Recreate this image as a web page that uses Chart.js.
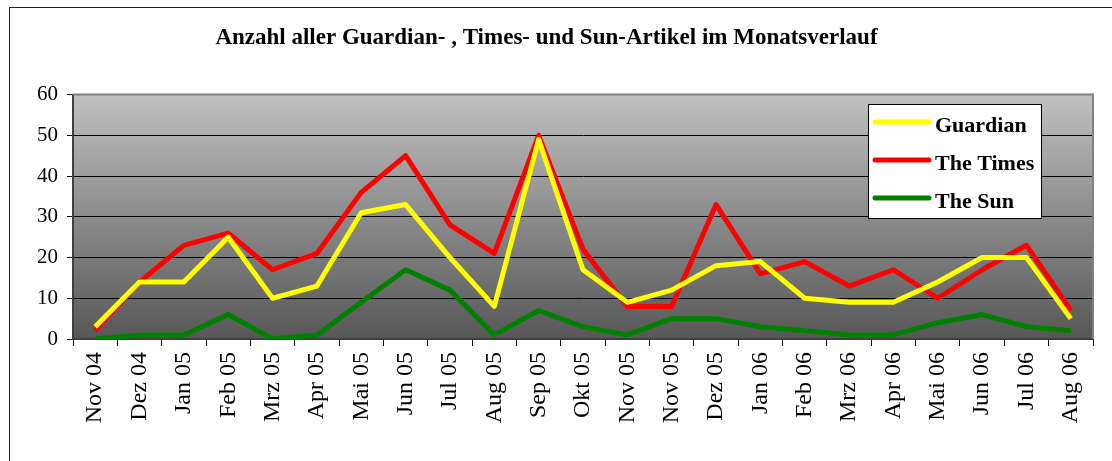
<!DOCTYPE html>
<html>
<head>
<meta charset="utf-8">
<script src="https://cdn.jsdelivr.net/npm/chart.js@4.4.1/dist/chart.umd.min.js"></script>
<style>
  html, body { margin: 0; padding: 0; background: #fff; }
  #wrap { width: 1112px; height: 461px; }
</style>
</head>
<body>
<div id="wrap"><canvas id="articleChart" width="1112" height="461"></canvas></div>
<script>
// chart data
const months = ['Nov 04', 'Dez 04', 'Jan 05', 'Feb 05', 'Mrz 05', 'Apr 05', 'Mai 05', 'Jun 05',
    'Jul 05', 'Aug 05', 'Sep 05', 'Okt 05', 'Nov 05', 'Nov 05', 'Dez 05', 'Jan 06', 'Feb 06',
    'Mrz 06', 'Apr 06', 'Mai 06', 'Jun 06', 'Jul 06', 'Aug 06'];
const guardian = [3, 14, 14, 25, 10, 13, 31, 33, 20, 8, 49, 17, 9, 12, 18, 19, 10, 9, 9, 14, 20, 20, 5];
const times = [2, 14, 23, 26, 17, 21, 36, 45, 28, 21, 50, 22, 8, 8, 33, 16, 19, 13, 17, 10, 17, 23, 7];
const sun = [0, 1, 1, 6, 0, 1, 9, 17, 12, 1, 7, 3, 1, 5, 5, 3, 2, 1, 1, 4, 6, 3, 2];
const yTicks = [0, 10, 20, 30, 40, 50, 60];

const serif = "'Liberation Serif', 'Times New Roman', serif";

// background: outer frame + gradient plot area + plot border
const backgroundPlugin = {
    id: 'background',
    beforeDraw(chart) {
        const ctx = chart.ctx;
        const a = chart.chartArea;
        ctx.save();
        ctx.fillStyle = '#fff';
        ctx.fillRect(0, 0, chart.width, chart.height);
        ctx.strokeStyle = '#222';
        ctx.lineWidth = 1;
        ctx.strokeRect(9.5, 7.5, chart.width + 20, chart.height + 20);

        const grad = ctx.createLinearGradient(0, a.top, 0, a.bottom);
        grad.addColorStop(0, '#c0c0c0');
        grad.addColorStop(1, '#575757');
        ctx.fillStyle = grad;
        ctx.fillRect(a.left, a.top, a.right - a.left, a.bottom - a.top);
        ctx.restore();
    },
    beforeDatasetsDraw(chart) {
        const ctx = chart.ctx;
        const a = chart.chartArea;
        ctx.save();
        ctx.strokeStyle = '#808080';
        ctx.lineWidth = 2;
        ctx.beginPath();
        ctx.moveTo(a.left, a.top);
        ctx.lineTo(a.right, a.top);
        ctx.lineTo(a.right, a.bottom);
        ctx.stroke();
        ctx.restore();
    }
};

// legend box inside the plot, top right
const boxLegendPlugin = {
    id: 'boxLegend',
    afterDraw(chart) {
        const ctx = chart.ctx;
        const x = 868, y = 104, w = 173, h = 114;
        ctx.save();
        ctx.fillStyle = '#fff';
        ctx.fillRect(x, y, w, h);
        ctx.strokeStyle = '#000';
        ctx.lineWidth = 1;
        ctx.strokeRect(x + 0.5, y + 0.5, w, h);
        ctx.font = 'bold 22px ' + serif;
        ctx.textBaseline = 'middle';
        chart.data.datasets.forEach((ds, i) => {
            const cy = y + 18 + i * 38;
            ctx.strokeStyle = ds.borderColor;
            ctx.lineWidth = 5;
            ctx.lineCap = 'round';
            ctx.beginPath();
            ctx.moveTo(875, cy);
            ctx.lineTo(929, cy);
            ctx.stroke();
            ctx.fillStyle = '#000';
            ctx.fillText(ds.label, 935, cy + 4);
        });
        ctx.restore();
    }
};

const chart = new Chart(document.getElementById('articleChart'), {
    type: 'line',
    data: {
        labels: months,
        datasets: [
            { label: 'Guardian', data: guardian, borderColor: '#ffff00' },
            { label: 'The Times', data: times, borderColor: '#ff0000' },
            { label: 'The Sun', data: sun, borderColor: '#008000' }
        ]
    },
    options: {
        responsive: false,
        animation: false,
        layout: { padding: { left: 0, right: 19, top: 0, bottom: 0 } },
        elements: {
            line: { borderWidth: 5, tension: 0, borderJoinStyle: 'round' },
            point: { radius: 0, hoverRadius: 0 }
        },
        plugins: {
            legend: { display: false },
            tooltip: { enabled: false },
            title: {
                display: true,
                text: 'Anzahl aller Guardian- , Times- und Sun-Artikel im Monatsverlauf',
                color: '#000',
                font: { family: serif, size: 23, weight: 'bold' },
                padding: { top: 24, bottom: 43 }
            }
        },
        scales: {
            x: {
                offset: true,
                grid: { offset: true, drawOnChartArea: false, color: '#000', tickLength: 7 },
                border: { color: '#404040', width: 2 },
                ticks: {
                    color: '#000',
                    font: { family: serif, size: 24 },
                    minRotation: 90,
                    maxRotation: 90,
                    autoSkip: false,
                    padding: 6
                },
                afterFit(scale) { scale.height = 122; }
            },
            y: {
                min: 0,
                max: 60,
                afterBuildTicks(scale) { scale.ticks = yTicks.map(v => ({ value: v })); },
                grid: { color: '#000', lineWidth: 1, tickLength: 6 },
                border: { color: '#404040', width: 2 },
                ticks: {
                    color: '#000',
                    font: { family: serif, size: 21 },
                    padding: 9
                },
                afterFit(scale) { scale.width = 73; }
            }
        }
    },
    plugins: [backgroundPlugin, boxLegendPlugin]
});
</script>
</body>
</html>
